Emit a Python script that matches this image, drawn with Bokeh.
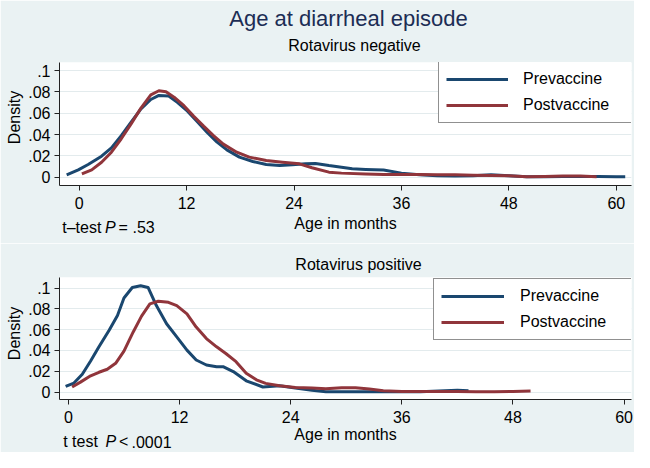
from bokeh.plotting import figure
from bokeh.models import (Range1d, FixedTicker, CustomJSTickFormatter, Legend, LegendItem)
from bokeh.core.properties import value
from bokeh.layouts import column
from bokeh.embed import file_html
from bokeh.resources import INLINE
import math

# ---------------- data ----------------
x_ticks = [0, 12, 24, 36, 48, 60]
y_ticks = [0, 0.02, 0.04, 0.06, 0.08, 0.1]
series_names = ["Prevaccine", "Postvaccine"]

# Rotavirus negative
neg_pre_age = [-1.4, -0.1, 1.0, 2.5, 3.6, 4.7, 5.8, 6.9, 8.0, 8.9, 10.0, 11.0, 12.1, 13.2, 14.3,
               15.4, 16.5, 17.9, 19.4, 20.9, 22.4, 23.8, 25.3, 26.4, 27.9, 29.3, 30.5, 32, 34,
               36, 38, 40, 42, 44, 46, 48, 50, 52, 54, 56, 58, 60, 61]
neg_pre_den = [0.0022, 0.0069, 0.0119, 0.0197, 0.0275, 0.039, 0.0516, 0.064, 0.0728, 0.0766, 0.076,
               0.070, 0.0619, 0.052, 0.042, 0.0328, 0.0256, 0.0188, 0.0147, 0.0119, 0.0109, 0.0116,
               0.0125, 0.0128, 0.0109, 0.0094, 0.0080, 0.0073, 0.0067, 0.0038, 0.0022, 0.0013,
               0.0010, 0.0013, 0.0022, 0.0013, 0.0003, 0.0003, 0.0006, 0.0006, 0.0006, 0.0003, 0.0003]
neg_post_age = [0.3, 1.4, 2.5, 3.6, 4.7, 5.8, 6.9, 8.0, 8.9, 9.7, 10.6, 11.7, 12.8, 13.9, 15.0,
                16.1, 17.6, 19.0, 20.9, 22.7, 24.6, 26.0, 27.9, 29.3, 32, 34, 36, 38, 40, 42, 44,
                46, 48, 50, 52, 54, 56, 57.8]
neg_post_den = [0.0031, 0.0069, 0.014, 0.0234, 0.036, 0.050, 0.0647, 0.0772, 0.081, 0.080, 0.075,
                0.067, 0.057, 0.0478, 0.039, 0.031, 0.0234, 0.0188, 0.0156, 0.014, 0.0125, 0.0088,
                0.0047, 0.0038, 0.0030, 0.0025, 0.0025, 0.0025, 0.0022, 0.0022, 0.0019, 0.0016,
                0.0013, 0.0003, 0.0006, 0.0010, 0.0010, 0.0004]

# Rotavirus positive
pos_pre_age = [-0.3, 0.6, 1.5, 2.4, 3.3, 4.4, 5.3, 6.0, 6.9, 7.8, 8.6, 9.5, 10.6, 11.7, 12.8,
               13.8, 14.9, 16.0, 16.7, 17.8, 19.2, 21.0, 22.8, 24.5, 26.3, 27.8, 29.5, 32, 34,
               36, 38, 40, 42, 43.2]
pos_pre_den = [0.0054, 0.0086, 0.0171, 0.0298, 0.0435, 0.0594, 0.0737, 0.0905, 0.1006, 0.1022,
               0.1006, 0.0832, 0.0657, 0.053, 0.0403, 0.0308, 0.026, 0.0244, 0.0244, 0.0197,
               0.0108, 0.0048, 0.006, 0.0038, 0.0016, 0.0003, 0.0003, 0.0003, 0.0003, 0.0003,
               0.0003, 0.0010, 0.0016, 0.0013]
pos_post_age = [0.4, 1.3, 2.4, 3.3, 4.2, 5.1, 6.0, 7.0, 7.9, 8.8, 9.7, 10.8, 11.7, 12.8, 13.8,
                14.9, 16.0, 17.0, 18.1, 19.2, 20.3, 21.3, 22.8, 24.5, 26.3, 27.8, 29.5, 31, 32.5,
                34, 36, 38, 40, 42, 44, 46, 48, 49.9]
pos_post_den = [0.0048, 0.0095, 0.0156, 0.019, 0.0219, 0.0276, 0.0394, 0.0578, 0.073, 0.0848,
                0.0873, 0.0863, 0.0832, 0.0752, 0.0625, 0.0514, 0.0435, 0.0371, 0.0292, 0.0181,
                0.0117, 0.0083, 0.006, 0.0044, 0.0038, 0.0032, 0.004, 0.0042, 0.003, 0.0013,
                0.0006, 0.0006, 0.0006, 0.0006, 0.0003, 0.0003, 0.0006, 0.0010]

# ---------------- style ----------------
FONT = "Liberation Sans"
BG = "#eaf2f3"
NAVY = "#1a476f"
MAROON = "#90353b"
GRID = "#e3ebed"
TITLE_COLOR = "#1c2d55"
W = 634
BORDER_L, BORDER_R = 59, 3

fmt = CustomJSTickFormatter(code="""
if (tick == 0) { return "0"; }
var s = tick.toFixed(2).replace(/^0/, "");
s = s.replace(/0$/, "");
return s;
""")


def make_panel(height, border_top, border_bottom, xr, yr, x_standoff):
    p = figure(width=W, height=height, output_backend="svg", toolbar_location=None,
               x_range=Range1d(*xr), y_range=Range1d(*yr),
               min_border_left=BORDER_L, min_border_right=BORDER_R,
               min_border_top=border_top, min_border_bottom=border_bottom)
    p.background_fill_color = "white"
    p.border_fill_color = BG
    p.outline_line_color = None
    p.xgrid.visible = False
    p.ygrid.grid_line_color = GRID
    p.ygrid.grid_line_width = 1
    p.ygrid.ticker = FixedTicker(ticks=y_ticks)

    p.xaxis.ticker = FixedTicker(ticks=x_ticks)
    p.yaxis.ticker = FixedTicker(ticks=y_ticks)
    p.yaxis.formatter = fmt
    for ax in (p.xaxis[0], p.yaxis[0]):
        ax.axis_line_color = "#222222"
        ax.axis_line_width = 1
        ax.major_tick_line_color = "#222222"
        ax.major_tick_in = 0
        ax.major_tick_out = 5
        ax.minor_tick_line_color = None
        ax.major_label_text_font = FONT
        ax.major_label_text_font_size = "16px"
        ax.major_label_text_color = "black"
        ax.major_label_standoff = 4
    p.xaxis.major_label_standoff = 6
    p.xaxis.axis_label = "Age in months"
    p.xaxis.axis_label_text_font = FONT
    p.xaxis.axis_label_text_font_size = "16px"
    p.xaxis.axis_label_text_font_style = "normal"
    p.xaxis.axis_label_text_color = "black"
    p.xaxis.axis_label_standoff = x_standoff
    # frame geometry (figure pixels) used to place free texts
    p.tags = [dict(top=border_top, bottom=height - border_bottom)]
    return p


def add_legend(p, r_pre, r_post, loc, glyph_w, standoff, label_w):
    leg = Legend(items=[LegendItem(label=series_names[0], renderers=[r_pre]),
                        LegendItem(label=series_names[1], renderers=[r_post])],
                 location=loc)
    leg.border_line_color = "#222222"
    leg.border_line_width = 1
    leg.background_fill_color = "white"
    leg.background_fill_alpha = 1
    leg.padding = 7
    leg.margin = 0
    leg.spacing = 6
    leg.glyph_width = glyph_w
    leg.glyph_height = 20
    leg.label_height = 20
    leg.label_width = label_w
    leg.label_standoff = standoff
    leg.label_text_font = FONT
    leg.label_text_font_size = "16px"
    leg.label_text_color = "black"
    p.add_layout(leg, "center")


def note(p, t, px, py, page_top, size="16px", color="black", align="left", style="normal", angle=0.0):
    """Free text placed at a pixel position (page coords) outside the frame."""
    x0, x1 = p.x_range.start, p.x_range.end
    y0, y1 = p.y_range.start, p.y_range.end
    left, right = BORDER_L, W - BORDER_R
    top = page_top + p.tags[0]["top"]
    bottom = page_top + p.tags[0]["bottom"]
    dx = x0 + (px - left) / (right - left) * (x1 - x0)
    dy = y0 + (bottom - py) / (bottom - top) * (y1 - y0)
    r = p.text(x=[dx], y=[dy], text=[t], text_font=value(FONT), text_font_size=size,
               text_color=color, text_align=align, text_baseline="middle",
               text_font_style=style, angle=angle)
    r.level = "overlay"


NOTE = "16px"

# ---------------- top panel ----------------
TOP_H = 243
p1 = make_panel(TOP_H, 62, 58, (-2.2, 61.7), (-0.0078, 0.1075), 3)
r1a = p1.line(neg_pre_age, neg_pre_den, line_width=3, line_color=NAVY, line_join="round")
r1b = p1.line(neg_post_age, neg_post_den, line_width=3, line_color=MAROON, line_join="round")
add_legend(p1, r1a, r1b, (379, 62), 62, 15, 103)
note(p1, "Age at diarrheal episode", 348, 18, 0, size="22px", color=TITLE_COLOR, align="center")
note(p1, "Rotavirus negative", 354, 44.5, 0, align="center")
note(p1, "Density", 13.5, 117, 0, align="center", angle=math.pi / 2)
note(p1, "t\u2013test", 61.7, 226.5, 0, size=NOTE)
note(p1, "P", 104.5, 226.5, 0, size=NOTE, style="italic")
note(p1, "=", 118, 226.5, 0, size=NOTE)
note(p1, ".53", 132, 226.5, 0, size=NOTE)

# ---------------- bottom panel ----------------
BOT_H = 209
p2 = make_panel(BOT_H, 34, 53, (-0.96, 60.8), (-0.0072, 0.1102), 0)
r2a = p2.line(pos_pre_age, pos_pre_den, line_width=3, line_color=NAVY, line_join="round")
r2b = p2.line(pos_post_age, pos_post_den, line_width=3, line_color=MAROON, line_join="round")
add_legend(p2, r2a, r2b, (374, 59), 63, 16, 106)
note(p2, "Rotavirus positive", 358, 264, TOP_H, align="center")
note(p2, "Density", 13.5, 333, TOP_H, align="center", angle=math.pi / 2)
note(p2, "t test", 62.7, 441, TOP_H, size=NOTE)
note(p2, "P", 105, 441, TOP_H, size=NOTE, style="italic")
note(p2, "<", 118.5, 441, TOP_H, size=NOTE)
note(p2, ".0001", 131, 441, TOP_H, size=NOTE)

layout = column(p1, p2, spacing=0)
open("out.html", "w").write(file_html(layout, INLINE))
